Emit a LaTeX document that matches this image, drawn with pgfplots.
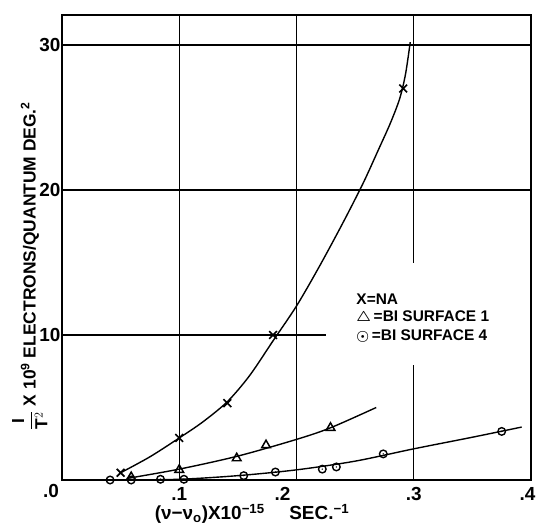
\documentclass[border=0pt]{standalone}
\usepackage{amsmath}
\usepackage{fontspec}
\setmainfont{Liberation Sans}
\usepackage{pgfplots}
\pgfplotsset{compat=1.18}

% circle with a dot in it
\pgfdeclareplotmark{odot}{%
  \pgfpathcircle{\pgfpoint{0pt}{0pt}}{\pgfplotmarksize}\pgfusepathqstroke
  \pgfpathcircle{\pgfpoint{0pt}{0pt}}{0.8pt}\pgfusepathqfill}

\begin{document}
\begin{tikzpicture}
\useasboundingbox (-62bp,-45bp) rectangle (474bp,480bp);
\begin{axis}[
    scale only axis,
    width=469bp, height=465bp,
    xmin=0, xmax=0.4, ymin=0, ymax=32.07,
    axis line style={line width=1.6pt},
    major tick length=0pt,
    xtick={0.1,0.188,0.3,0.397},
    xticklabels={.1,.2,.3,.4},
    extra x ticks={0},
    extra x tick labels={.0},
    extra x tick style={xticklabel style={xshift=-11bp, yshift=3bp}},
    ytick={10,20,30},
    yticklabels={10,20,30},
    tick label style={font=\fontsize{19}{19}\selectfont\bfseries},
    xticklabel style={yshift=-4bp},
    yticklabel style={xshift=2bp},
    xlabel={(ν−ν\textsubscript{o})X10\textsuperscript{−15}\hspace{1.3em}SEC.\textsuperscript{−1}},
    xlabel style={at={(rel axis cs:0.405,0)}, anchor=north, yshift=-21bp,
      font=\fontsize{19}{19}\selectfont\bfseries},
    ylabel={$\displaystyle\frac{\mathbf{I}}{\mathbf{T}^{2}}$ X 10\textsuperscript{9} ELECTRONS/QUANTUM DEG.\textsuperscript{2}},
    ylabel style={at={([xshift=-11bp]rel axis cs:0,0.46)}, anchor=south,
      font=\fontsize{17.5}{17.5}\selectfont\bfseries},
    clip=false,
  ]
  % grid, drawn by hand because parts of it are broken
  \draw[line width=1.1pt] (axis cs:0.1,0) -- (axis cs:0.1,32.07);
  \draw[line width=1.1pt] (axis cs:0.2,0) -- (axis cs:0.2,32.07);
  \draw[line width=1.1pt] (axis cs:0.3,0) -- (axis cs:0.3,7.9);
  \draw[line width=1.1pt] (axis cs:0.3,15.0) -- (axis cs:0.3,32.07);
  \draw[line width=1.1pt] (axis cs:0,10) -- (axis cs:0.225,10);
  \draw[line width=1.1pt] (axis cs:0,20) -- (axis cs:0.4,20);
  \draw[line width=1.1pt] (axis cs:0,30) -- (axis cs:0.4,30);

  % Na curve
  \addplot[black, line width=1.4pt, smooth] coordinates {
    (0.05,0.5) (0.075,1.6) (0.1,2.9) (0.12,4.0) (0.141,5.4) (0.16,7.2)
    (0.18,9.6) (0.2,12.0) (0.22,14.8) (0.24,17.8) (0.257,20.5)
    (0.27,22.8) (0.28,24.6) (0.288,26.3) (0.293,28.0) (0.297,30.2)
  };
  \addplot[only marks, mark=x, mark size=5.5bp, line width=1.6pt] coordinates {
    (0.05,0.5) (0.1,2.9) (0.141,5.3) (0.18,10.0) (0.291,27.0)
  };

  % Bi surface 1 curve
  \addplot[black, line width=1.4pt, smooth] coordinates {
    (0.055,0.1) (0.1,0.75) (0.15,1.65) (0.2,2.8) (0.229,3.6) (0.268,5.0)
  };
  \addplot[only marks, mark=triangle, mark size=5bp, line width=1.5pt] coordinates {
    (0.059,0.2) (0.1,0.7) (0.149,1.5) (0.174,2.4) (0.229,3.6)
  };

  % Bi surface 4 curve
  \addplot[black, line width=1.4pt, smooth] coordinates {
    (0,0) (0.05,0.01) (0.1,0.05) (0.15,0.3) (0.2,0.7) (0.25,1.3)
    (0.3,2.15) (0.35,2.95) (0.392,3.65)
  };
  \addplot[only marks, mark=odot, mark size=3.8bp, line width=1.4pt] coordinates {
    (0.041,0) (0.059,0) (0.084,0.05) (0.104,0.05) (0.155,0.3) (0.182,0.55)
    (0.222,0.75) (0.234,0.9) (0.274,1.8) (0.375,3.35)
  };

  % legend, one line per node
  \node[anchor=west, inner sep=0pt, font=\fontsize{15.5}{15.5}\selectfont\bfseries]
    at (axis cs:0.251,12.45) {X=NA};
  \node[anchor=west, inner sep=0pt, font=\fontsize{15.5}{15.5}\selectfont\bfseries]
    at (axis cs:0.251,11.2) {$\boldsymbol{\bigtriangleup}$\,=BI SURFACE 1};
  \node[anchor=west, inner sep=0pt, font=\fontsize{15.5}{15.5}\selectfont\bfseries]
    at (axis cs:0.251,9.95) {$\boldsymbol{\odot}$\,=BI SURFACE 4};
\end{axis}
\end{tikzpicture}
\end{document}
